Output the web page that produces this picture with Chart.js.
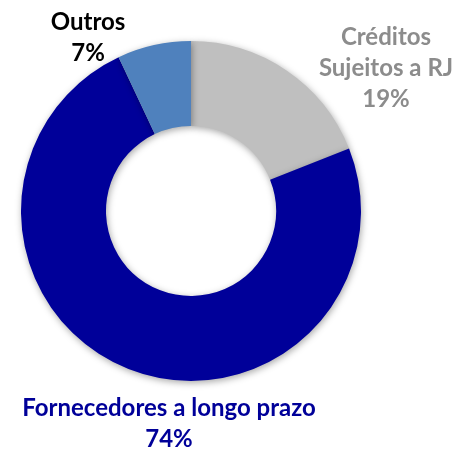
<!DOCTYPE html>
<html>
<head>
<meta charset="utf-8">
<script src="https://cdn.jsdelivr.net/npm/chart.js@4"></script>
<style>
    html, body { margin: 0; padding: 0; background: #fff; }
    #wrap { width: 467px; height: 449px; }
</style>
</head>
<body>
<div id="wrap"><canvas id="chart_composicao"></canvas></div>
<script>
const categorias = ['Créditos Sujeitos a RJ', 'Fornecedores a longo prazo', 'Outros'];
const valores = [19, 74, 7];
const coresFatias = ['#BFBFBF', '#000099', '#4F81BD'];
const coresTexto = ['#8C8C8C', '#000099', '#000000'];
// linhas de cada rótulo (quebra manual como no original)
const linhasRotulo = [['Créditos', 'Sujeitos a RJ'], ['Fornecedores a longo prazo'], ['Outros']];

// deslocamento de cada rótulo a partir do centro do gráfico (x, y da primeira linha)
const posRotulo = [[195, -174], [-22, 197], [-103, -189]];

const sombra = {
    id: 'sombra',
    beforeDatasetDraw(chart) {
        let ctx = chart.ctx;
        ctx.save();
        ctx.shadowColor = 'rgba(0, 0, 0, 0.35)';
        ctx.shadowBlur = 7;
        ctx.shadowOffsetX = 1;
        ctx.shadowOffsetY = 2;
    },
    afterDatasetDraw(chart) {
        chart.ctx.restore();
    }
};

const rotulos = {
    id: 'rotulos',
    afterDraw(chart) {
        let ctx = chart.ctx;
        let arc = chart.getDatasetMeta(0).data[0];
        let total = valores.reduce((a, b) => a + b, 0);
        ctx.save();
        ctx.font = 'bold 24px Lato';
        ctx.textAlign = 'center';
        ctx.textBaseline = 'middle';
        valores.forEach((v, i) => {
            let linhas = linhasRotulo[i].concat([Math.round(v / total * 100) + '%']);
            ctx.fillStyle = coresTexto[i];
            linhas.forEach((linha, j) => {
                ctx.fillText(linha, arc.x + posRotulo[i][0], arc.y + posRotulo[i][1] + j * 31);
            });
        });
        ctx.restore();
    }
};

new Chart(document.getElementById('chart_composicao'), {
    type: 'doughnut',
    data: {
        labels: categorias,
        datasets: [{
            data: valores,
            backgroundColor: coresFatias,
            borderWidth: 0
        }]
    },
    options: {
        responsive: true,
        maintainAspectRatio: false,
        animation: false,
        cutout: '50%',
        layout: {
            padding: { left: 21, right: 106, top: 41, bottom: 68 }
        },
        plugins: {
            legend: { display: false },
            tooltip: { enabled: false }
        }
    },
    plugins: [sombra, rotulos]
});
</script>
</body>
</html>
